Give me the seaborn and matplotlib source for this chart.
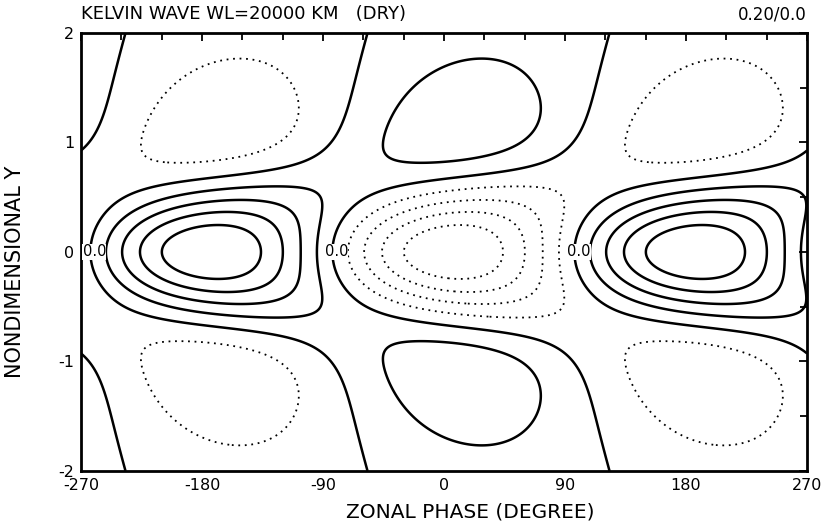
import numpy as np
import matplotlib
matplotlib.use("Agg")
import matplotlib.pyplot as plt
import seaborn as sns

# ---- chart values ----
title_left = "KELVIN WAVE WL=20000 KM   (DRY)"
title_right = "0.20/0.0"
x_label = "ZONAL PHASE (DEGREE)"
y_label = "NONDIMENSIONAL Y"
x_ticks = [-270, -180, -90, 0, 90, 180, 270]
y_ticks = [-2, -1, 0, 1, 2]
contour_levels = [-0.8, -0.6, -0.4, -0.2, 0.0, 0.2, 0.4, 0.6, 0.8]

# zonal position of the equatorial maximum (degrees)
crest_phase = -173.0
# in-phase meridional structure: (1+c) exp(-y^2/w1) - c exp(-y^2/w2)
p_core_width2 = 0.47
p_lobe_width2 = 2.0
p_lobe_amp = 0.9
# quadrature meridional structure: y^2 (b exp(-y^2/v) - d exp(-y^2/u))
q_core_amp = 1.507
q_core_width2 = 0.33
q_tail_amp = 0.11
q_tail_width2 = 2.0

sns.set_style("white")
plt.rcParams["font.family"] = ["DejaVu Sans"]
plt.rcParams["axes.unicode_minus"] = False
plt.rcParams["text.color"] = "black"
plt.rcParams["axes.labelcolor"] = "black"
plt.rcParams["xtick.color"] = "black"
plt.rcParams["ytick.color"] = "black"

x = np.linspace(-270, 270, 721)
y = np.linspace(-2, 2, 401)
X, Y = np.meshgrid(x, y)
theta = np.deg2rad(X - crest_phase)
P = ((1 + p_lobe_amp) * np.exp(-Y**2 / p_core_width2)
     - p_lobe_amp * np.exp(-Y**2 / p_lobe_width2))
Q = Y**2 * (q_core_amp * np.exp(-Y**2 / q_core_width2)
            - q_tail_amp * np.exp(-Y**2 / q_tail_width2))
F = P * np.cos(theta) + Q * np.sin(theta)

fig = plt.figure(figsize=(8.29, 5.26), dpi=100)
ax = fig.add_axes([0.0977, 0.1046, 0.9735 - 0.0977, 0.9373 - 0.1046])

neg = [l for l in contour_levels if l < 0]
pos = [l for l in contour_levels if l >= 0]
ax.contour(X, Y, F, levels=pos, colors="black", linewidths=1.8,
           linestyles="solid")
ax.contour(X, Y, F, levels=neg, colors="black", linewidths=1.3,
           linestyles=[(0, (1, 2.6))])

# zero-contour labels on the equator
for xz in [crest_phase - 90, crest_phase + 90, crest_phase + 270]:
    if -270 <= xz <= 270:
        ax.text(xz + 3, 0, "0.0", ha="center", va="center", fontsize=10.5,
                bbox=dict(facecolor="white", edgecolor="none", pad=0.2))

ax.set_xlim(-270, 270)
ax.set_ylim(-2, 2)
ax.set_xticks(x_ticks)
ax.set_xticklabels([str(t) for t in x_ticks], fontsize=11.5)
ax.set_xticks(np.arange(-270, 271, 30), minor=True)
ax.set_yticks(y_ticks)
ax.set_yticklabels([str(t) for t in y_ticks], fontsize=11.5)
ax.set_yticks(np.arange(-2, 2.01, 0.5), minor=True)
ax.tick_params(axis="both", which="both", direction="in", top=True,
               right=True, colors="black", width=1.3)
ax.tick_params(axis="both", which="major", length=6, pad=5)
ax.tick_params(axis="both", which="minor", length=5)
for s in ax.spines.values():
    s.set_linewidth(2)
    s.set_color("black")

ax.set_xlabel(x_label, fontsize=14.5)
ax.xaxis.set_label_coords(0.536, -0.071)
ax.set_ylabel(y_label, fontsize=15)
ax.yaxis.set_label_coords(-0.077, 0.454)
fig.text(0.0977, 0.973, title_left, ha="left", va="center", fontsize=13)
fig.text(0.9735, 0.973, title_right, ha="right", va="center", fontsize=12)

fig.savefig("out.png", dpi=100)
